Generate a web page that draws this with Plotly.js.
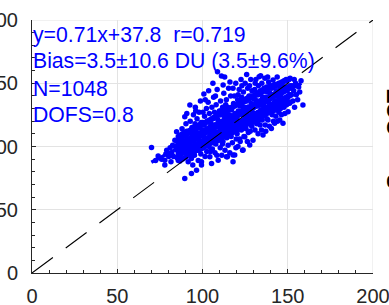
<!DOCTYPE html>
<html>
<head>
<meta charset="utf-8">
<script src="https://cdn.plot.ly/plotly-3.0.1.min.js"></script>
<style>html,body{margin:0;padding:0;background:#fff;}#chart{width:389px;height:305px;}</style>
</head>
<body>
<div id="chart"></div>
<script>
// ---- data ----
const obsX = [
70.1,72.5,74,76,77.9,77.9,78.5,79,80.2,81,
82,82.5,83.8,84.8,83,85.5,86,86.5,87,87.5,88,88.5,89.6,89.6,89,89.2,90.3,84,86.8,81.5,
90.5,91,91.6,91.8,92.3,92.6,92.8,93.5,93.5,93.2,93.8,94.3,94.5,94.7,95,95.3,95.6,95.8,96,96.3,96.5,96.8,97,97.2,97.5,97.8,98,98.3,98.6,98.8,99,99.2,99.4,99.4,99.6,99.8,90.8,92,94,96,
100.2,100.5,100.8,101,101.2,101.5,101.8,102,102.3,102.5,102.8,103,103.3,103.5,103.8,104,104.3,104.5,104.8,105,105.3,105.5,105.8,106,106.3,106.5,106.8,107,107.3,107.5,107.8,108,108.3,108.6,108.8,109,109.2,109.5,109.7,109.9,100.3,101.6,103.6,104.6,106.1,107.6,108.4,102.6,105.1,107.1,
110.2,110.4,110.6,110.8,111,111.1,111.3,111.5,111.8,112,112.1,112.3,112.5,112.8,113,113.2,113.4,113.7,114,114.1,114.3,114.6,114.6,114.8,115,115.3,115.5,115.8,116,116.3,116.5,116.8,117,117.3,117.5,117.9,117.9,117.9,118.2,118.5,118.9,119,119.3,119.5,119.8,110.5,111.7,113.6,115.1,116.1,117.6,118.7,119.6,112.9,114.4,116.7,
120.1,120.3,120.6,120.8,121,121.3,121.5,121.8,122,122.3,122.6,122.8,123,123.3,123.5,123.8,123.8,124,124.3,124.5,124.8,125,125.2,125.5,125.8,126,126.3,126.5,126.8,127,127.3,127.7,127.8,128,128.3,128.6,128.8,129,129.3,129.6,129.8,120.9,122.1,123.1,124.6,125.9,126.9,127.6,128.9,129.5,
130.2,130.4,130.6,130.8,131,131.3,131.5,131.8,132,132.3,132.6,132.8,133,133.2,133.5,133.8,134,134.3,134.6,134.8,135,135.3,135.5,135.8,136,136.3,136.6,136.8,137,137.3,137.6,137.8,138,138.4,138.6,138.8,139,139.3,139.6,139.8,130.9,132.5,134.1,135.6,137.1,138.2,139.4,
140.2,140.4,140.6,140.8,141,141.4,141.6,141.8,142,142.3,142.5,142.8,143,143.3,143.6,143.8,144,144.3,144.6,144.8,145,145.3,145.5,145.8,146,146.3,146.6,147,147.2,147.5,147.8,148,148.3,148.6,149,149.3,149.6,150,
150.2,150.6,151.1,151.4,152.1,152.5,153,153.5,154,154.6,155,155.8,156.4,157,158.9,157.8,153.8
];
const obsY = [
99.3,89,92.5,90,85.3,89.2,94,97,92,99,
95,101,105,111.6,92,97,103,108,93.5,99,114,104,123.5,74.7,96,109,118,100,88.5,88,
100,106,87.9,112,96,132.8,120,78.7,90.6,104,115,85.3,99,125,108,93,118,131,102,112,81.3,122,97,106,89,115,127,101,110,136,94,119,85.3,87.9,104,113,126,93,110,128,
99,108,141.5,117,124,92,103,112,130,96,120,107,135,114,100,126,91.9,110,118,104,86.6,131,98,122,113,139,107,127,95,117,102,133,111,145,159,121,89.2,105,115,128,127,137,144,96,150,140,93,104,115,111,
118,99,136,109,125,155.7,93,114,131,104,148.6,120,142,110,155,97,126,116,137,91.9,107,121,91.9,131,101,146,113,125,95,118,140,108,129,122,103,87.9,93.2,146,134,114,93.2,126,119,150,106,128,102,133,117,151,112,140,99,124,113,130,
123,110,137,100,128,116,145,106,132,120,153,113,139,125,97,97.2,118,143,108,131,107.7,150,122,114,136,126,104,146,118,131,140,101.1,124,112,153,134,120,144,127,105,138,141,104,148,126,157,111,148,116,131,
131,122,145,113,137,153,126,118,141,132,110,148,124,155.2,136,117,144,129,113,150,121,139,109,133,146,125,154,117,139,130,147,122,143,120.9,135,151,128,116,142,132,150,120,156,127,112,155,147,
138,114.3,146,125,132,152.6,120,141,129,118.3,148,136,124,144,131,155,120,148.6,139,127,134,120.9,146,130,141,125,150,136,118.3,143,131,147,126,138,152,133,144,139,
127.5,146,134.1,141,140.7,148,136,144,131,150,141,137,147,143,132.8,152,153
];
// dense core of the cloud (rows of points per column)
const coreX = [85.2,86.4,87.6,88.8,90.1,91.3,92.4,93.6,94.9,96.1,97.4,98.5,99.7,100.9,102.1,103.4,104.7,105.9,107.2,108.5,109.6,110.9,112.2,113.5,114.7,115.9,117.1,118.4,119.7,120.9,122.2,123.4,124.7,125.9,127.1,128.4,129.7,130.8,132.1,133.4,134.6,135.9,137.2,138.5,139.7,140.9,142.2,143.5,144.7,145.9,147.2,148.4,149.6,150.8];
const coreYHigh = [104,106,107,108,109,110,111,112,113,114,115,116,117,118,119,120,121,122,123,124,125,126,127,128,129,130,131,132,133,134,135,136,137,138,139,140,140,141,142,143,144,145,146,147,148,148,149,149,150,150,151,152,152,153];
const coreYMid = [97,99,101,100,102,103,102,105,104,107,106,108,109,110,111,112,111,114,115,116,117,116,118,119,120,121,120,123,124,125,126,127,128,127,129,130,131,132,133,134,133,136,137,137,138,139,140,141,142,143,144,145,146,147];
const coreYLow = [91,93,94,95,96,95,97,98,97,99,100,99,101,102,101,104,104,105,106,107,108,109,110,111,112,113,113,114,115,116,117,117,119,120,121,122,122,123,124,125,126,127,128,129,130,131,132,133,134,135,136,137,138,140];
const coreX2 = [85.8,87.0,88.2,89.4,90.7,91.9,93.0,94.2,95.5,96.7,98.0,99.1,100.3,101.5,102.7,104.0,105.3,106.5,107.8,109.1,110.2,111.5,112.8,114.1,115.3,116.5,117.7,119.0,120.3,121.5,122.8,124.0,125.3,126.5,127.7,129.0,130.3,131.4,132.7,134.0,135.2,136.5,137.8,139.1,140.3,141.5,142.8,144.1,145.3,146.5,147.8,149.0,150.2,151.4];
const coreYUpper = [102,103,103,104,105,106,107,108,109,110,110,111,112,113,114,115,116,117,117,118,119,120,121,122,123,124,124,125,126,127,128,129,130,131,131,132,133,134,135,136,137,138,138,139,140,141,142,143,144,145,145,146,147,148];
const coreYLower = [94,95,96,97,98,98,99,100,101,102,103,104,104,105,106,107,108,109,110,111,111,112,113,114,115,116,117,118,118,119,120,121,122,123,124,125,126,126,127,128,129,130,131,132,133,134,135,135,136,137,138,139,140,141];
const coreYTop = [108,109,110,111,112,112,113,114,115,116,117,118,119,119,120,121,122,123,124,125,125,126,127,128,129,130,131,132,133,134,134,135,136,137,138,139,140,141,141,142,143,144,145,146,147,147,148,149,150,151,152,153,153,154];
const coreYBottom = [89,90,90,91,92,93,94,95,96,97,97,98,99,100,101,102,103,103,104,105,106,107,108,109,110,110,111,112,113,114,115,116,117,118,118,119,120,121,122,123,124,125,126,127,127,128,129,130,131,132,133,134,134,135];
const fitSlope = 0.71;
const fitIntercept = 37.8;
const fitXRange = [70, 158];
const refLine = [0, 200];
const tickVals = [0, 50, 100, 150, 200];
const tickText = ['0', '50', '100', '150', '200'];
const statLines = ['y=0.71x+37.8  r=0.719', 'Bias=3.5\u00b110.6 DU (3.5\u00b19.6%)', 'N=1048', 'DOFS=0.8'];
const sideLabel = 'Sen. OCT';

// ---- chart ----
const allX = obsX.concat(coreX, coreX, coreX, coreX2, coreX2, coreX2, coreX2);
const allY = obsY.concat(coreYHigh, coreYMid, coreYLow, coreYUpper, coreYLower, coreYTop, coreYBottom);
const fitY = fitXRange.map(v => fitSlope * v + fitIntercept);
const font = 'Arial, "Liberation Sans", Helvetica, sans-serif';
const dark = '#262626';
const blue = '#0000ff';
const grid = '#e3e3e3';

const traces = [
  {x: allX, y: allY, type: 'scatter', mode: 'markers', marker: {color: blue, size: 5.5, line: {width: 0}}, hoverinfo: 'skip'},
  {x: fitXRange, y: fitY, type: 'scatter', mode: 'lines', line: {color: blue, width: 3.5}, hoverinfo: 'skip'},
  {x: refLine, y: refLine, type: 'scatter', mode: 'lines', line: {color: '#000', width: 1.1, dash: '26px,16px'}, hoverinfo: 'skip'}
];

function axis() {
  return {
    range: [0, 200], tickmode: 'array', tickvals: tickVals, ticktext: tickText,
    ticks: 'inside', ticklen: 4, tickwidth: 1, tickcolor: dark,
    showline: true, linecolor: dark, linewidth: 1, mirror: false,
    showgrid: true, gridcolor: grid, gridwidth: 1, zeroline: false,
    tickfont: {family: font, size: 20, color: dark},
    ticklabeloverflow: 'allow',
    minor: {dtick: 10, tick0: 0, ticks: 'inside', ticklen: 3, tickwidth: 1, tickcolor: dark, showgrid: false},
    fixedrange: true
  };
}
const xa = axis(); xa.ticklabelstandoff = 5;
const ya = axis(); ya.ticklabelstandoff = 9;

const lineY = [188.4, 167.3, 146.2, 125.0];
const annotations = statLines.map((t, i) => ({
  text: t, xref: 'x', yref: 'y', x: 0, y: lineY[i], xanchor: 'left', yanchor: 'middle',
  showarrow: false, borderpad: 0, font: {family: font, size: 21.2, color: blue}
}));
annotations.push({
  text: '<b>' + sideLabel + '</b>', xref: 'paper', yref: 'paper', x: 1.0645, y: 0.531,
  xanchor: 'center', yanchor: 'middle', textangle: -90, showarrow: false,
  font: {family: font, size: 22, color: '#000'}
});

const shapes = [
  {type: 'line', xref: 'x', yref: 'paper', x0: 200, x1: 200, y0: 0, y1: 1, line: {color: grid, width: 1}, layer: 'below'},
  {type: 'line', xref: 'paper', yref: 'y', x0: 0, x1: 1, y0: 200, y1: 200, line: {color: grid, width: 1}, layer: 'below'}
];

const layout = {
  width: 389, height: 305,
  margin: {l: 32, r: 16, t: 20, b: 32, pad: 0},
  paper_bgcolor: '#fff', plot_bgcolor: '#fff',
  showlegend: false,
  xaxis: xa, yaxis: ya,
  annotations: annotations,
  shapes: shapes
};

Plotly.newPlot('chart', traces, layout, {staticPlot: true, displayModeBar: false});
</script>
</body>
</html>
